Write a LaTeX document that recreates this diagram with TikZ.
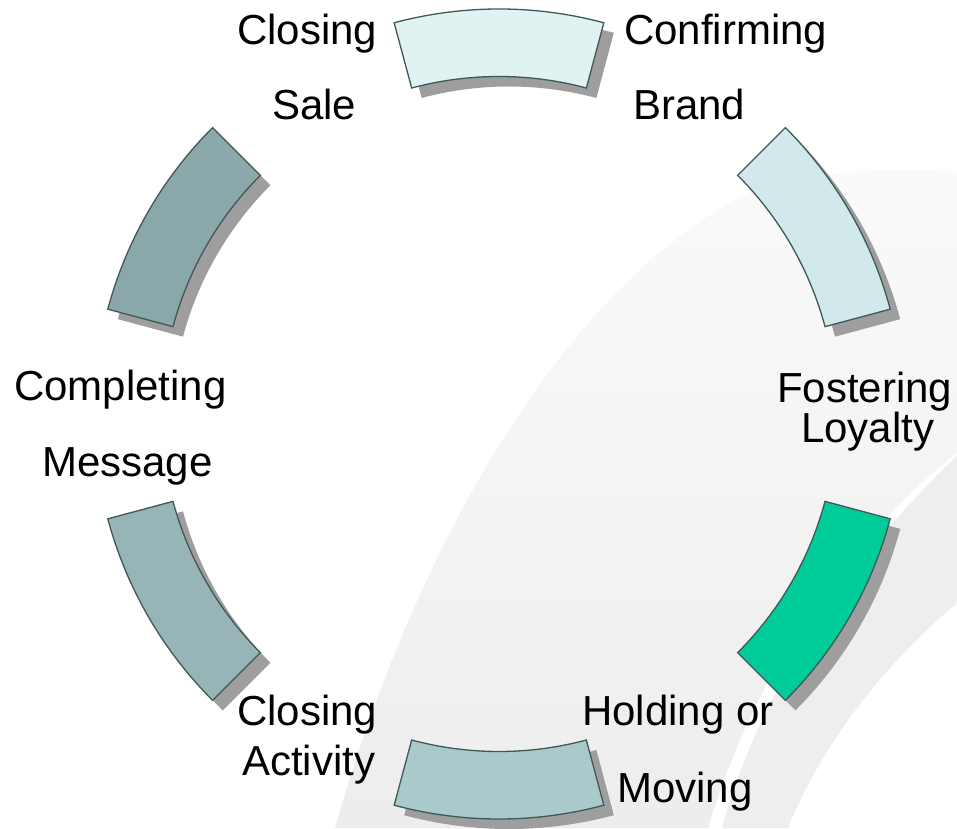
\documentclass[tikz,border=0pt]{standalone}
\usepackage{fontspec}
\setmainfont{Liberation Sans}
\usetikzlibrary{calc}
\definecolor{segA}{HTML}{E1F2F2}
\definecolor{segB}{HTML}{D1E9EB}
\definecolor{segC}{HTML}{00CC99}
\definecolor{segD}{HTML}{A9C9CB}
\definecolor{segE}{HTML}{97B4B6}
\definecolor{segF}{HTML}{8AA7A9}
\definecolor{edge}{HTML}{405858}
\definecolor{shade}{HTML}{9E9E9E}
\definecolor{swTop}{HTML}{FAFAFA}
\definecolor{swBot}{HTML}{EDEDED}
\definecolor{swB}{HTML}{EEEEEE}
\tikzset{
  label/.style={anchor=base west, inner sep=0pt, font=\fontsize{42}{50}\selectfont, text=black},
  segment/.style={draw=edge, line width=1.3pt},
  segshadow/.style={fill=shade, draw=none}
}
% #1 center angle, #2 options, #3 #4 centre of the ring
\newcommand{\ringseg}[4]{%
  \path[#2] ($(#3,#4)+({#1-15}:405pt)$) arc[start angle={#1-15}, end angle={#1+15}, radius=405pt]
    -- ($(#3,#4)+({#1+15}:337.5pt)$) arc[start angle={#1+15}, end angle={#1-15}, radius=337.5pt] -- cycle;}
\begin{document}
\begin{tikzpicture}[x=1pt,y=1pt]
\useasboundingbox (0,0) rectangle (957,828);
\fill[white] (0,0) rectangle (957,828);
% background swooshes
\shade[top color=swTop, bottom color=swBot]
  (335,0) .. controls (420,300) and (580,560) .. (760,640) .. controls (840,660) and (900,660) .. (957,656)
  -- (957,375) .. controls (850,290) and (760,170) .. (708,0) -- cycle;
\fill[swB] (722,0) .. controls (760,140) and (850,270) .. (957,372)
  -- (957,225) .. controls (880,160) and (820,80) .. (788,0) -- cycle;
% shadows
\foreach \a in {90,30,-30,-90,-150,150} {\ringseg{\a}{segshadow}{509}{404}}
% segments
\ringseg{90}{segment,fill=segA}{499}{414}
\ringseg{30}{segment,fill=segB}{499}{414}
\ringseg{-30}{segment,fill=segC}{499}{414}
\ringseg{-90}{segment,fill=segD}{499}{414}
\ringseg{-150}{segment,fill=segE}{499}{414}
\ringseg{150}{segment,fill=segF}{499}{414}
% labels
\node[label] (l1) at (237,783) {Closing};
\node[label] (l2) at (272,708) {Sale};
\node[label] (l3) at (624,783) {Confirming};
\node[label] (l4) at (633,708) {Brand};
\node[label] (l5) at (777,425) {Fostering};
\node[label] (l6) at (801,386) {Loyalty};
\node[label] (l7) at (582,103) {Holding or};
\node[label] (l8) at (617,26) {Moving};
\node[label] (l9) at (237,103) {Closing};
\node[label] (l10) at (242,53) {Activity};
\node[label] (l11) at (14,428) {Completing};
\node[label] (l12) at (42,352) {Message};
\end{tikzpicture}
\end{document}
